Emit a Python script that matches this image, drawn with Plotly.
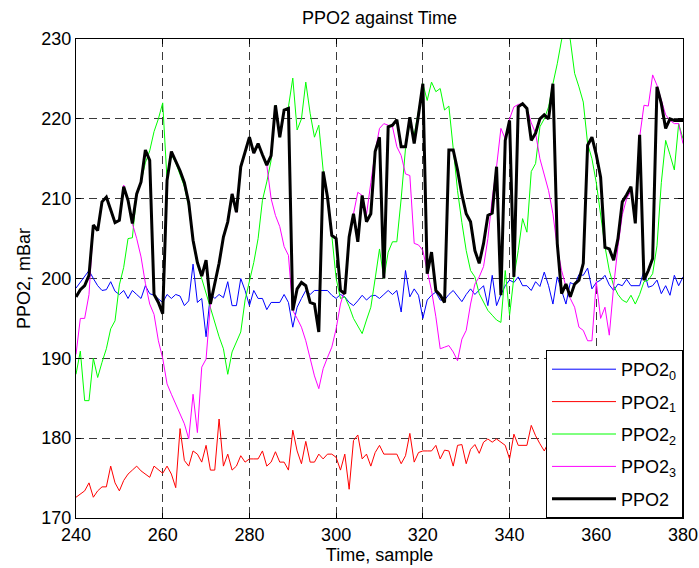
import plotly.graph_objects as go

samples = list(range(240, 381))

ppo2_0 = [
    198.8, 199.5, 200.3, 201.0, 200.0, 199.1, 198.5, 198.6, 199.6, 198.4,
    198.0, 198.5, 197.5, 198.5, 198.0, 197.5, 199.1, 198.1, 197.9, 197.5,
    197.0, 198.0, 197.5, 198.0, 197.8, 196.6, 197.2, 201.8, 197.0, 197.5,
    192.7, 198.1, 197.5, 198.0, 197.6, 199.6, 196.6, 196.6, 200.0, 198.5,
    196.6, 198.5, 197.5, 197.5, 196.1, 197.0, 197.0, 197.0, 198.0, 197.0,
    193.9, 196.4, 197.5, 198.5, 198.0, 198.5, 198.5, 198.5, 198.5, 197.9,
    197.5, 198.0, 197.7, 197.0, 196.6, 197.2, 197.9, 197.3, 197.8, 197.9,
    197.5, 198.0, 198.5, 198.0, 198.5, 195.8, 201.0, 197.7, 198.7, 197.9,
    195.0, 197.3, 197.9, 198.3, 197.3, 197.3, 198.0, 198.5, 197.8, 197.1,
    198.0, 198.7, 198.0, 198.6, 199.1, 196.6, 200.4, 196.6, 198.0, 199.1,
    199.8, 199.5, 200.2, 199.1, 199.1, 198.5, 199.6, 199.0, 200.8, 199.1,
    196.8, 200.2, 198.5, 196.8, 199.5, 199.2, 200.5, 200.4, 201.3, 198.7,
    199.5, 199.8, 200.4, 199.2, 198.5, 199.3, 199.1, 199.9, 199.1, 199.1,
    199.1, 201.0, 198.9, 199.1, 199.8, 198.1, 199.1, 197.9, 200.4, 199.1,
    200.2,
]

ppo2_1 = [
    172.6, 173.0, 173.4, 174.4, 172.6, 173.4, 173.9, 173.9, 176.5, 174.4,
    173.4, 174.7, 175.5, 176.0, 176.5, 175.9, 175.5, 175.1, 176.5, 176.1,
    175.6, 176.5, 175.5, 173.8, 181.2, 177.2, 176.5, 178.4, 178.0, 177.0,
    179.1, 176.0, 176.0, 182.4, 176.5, 178.0, 176.0, 176.5, 177.8, 177.0,
    177.4, 177.4, 177.4, 178.4, 176.5, 177.0, 178.3, 177.0, 177.0, 176.0,
    181.0, 178.4, 176.8, 179.6, 177.0, 177.0, 178.0, 177.4, 178.0, 178.0,
    177.6, 176.0, 178.0, 173.6, 179.7, 180.4, 177.4, 178.0, 176.5, 178.2,
    179.1, 178.0, 178.0, 178.0, 178.0, 176.8, 177.8, 180.6, 177.0, 178.2,
    178.4, 178.4, 178.4, 179.1, 177.4, 178.5, 178.4, 176.5, 179.1, 179.2,
    176.8, 178.6, 179.2, 178.1, 179.5, 179.9, 179.5, 179.9, 179.5, 179.1,
    177.4, 180.5, 179.1, 179.1, 179.1, 181.6, 180.3, 179.3, 178.4, 179.5,
    180.2, 178.9, 180.6, 179.4, 180.8, 179.2, 180.0, 181.2, 179.6, 180.4,
    179.0, 180.7, 179.8, 181.0, 179.5, 180.2, 181.4, 179.8, 180.5, 179.4,
    180.9, 180.1, 179.6, 181.0, 180.3, 179.7, 181.2, 180.4, 179.9, 180.8,
    180.5,
]

ppo2_2 = [
    188.0, 190.9, 184.7, 184.7, 190.0, 187.6, 189.5, 191.2, 193.7, 194.7,
    199.2, 201.4, 205.0, 205.1, 210.6, 212.1, 214.5, 216.0, 218.4, 220.0,
    222.0, 212.3, 215.5, 214.5, 213.0, 211.5, 209.0, 204.5, 201.8, 200.0,
    198.0, 196.5, 194.7, 192.7, 191.2, 188.0, 190.8, 192.0, 193.3, 197.3,
    199.8, 202.0, 205.0, 209.8, 212.1, 214.8, 221.7, 217.7, 221.1, 221.5,
    225.1, 218.6, 220.0, 224.6, 220.7, 217.7, 219.2, 213.6, 210.0, 205.4,
    200.0, 197.5, 197.7, 196.5, 195.0, 194.0, 193.1, 194.8, 196.4, 200.0,
    203.7, 200.0, 203.3, 204.6, 204.6, 210.0, 216.3, 219.5, 218.0, 221.0,
    224.4, 222.3, 224.6, 223.4, 223.8, 221.1, 221.6, 216.3, 211.0, 207.0,
    203.5, 201.0, 200.2, 198.1, 197.0, 196.0, 195.4, 194.8, 194.5, 201.0,
    195.4, 200.2, 203.5, 207.5, 205.8, 213.4, 214.4, 219.0, 220.0, 221.5,
    224.4, 226.9, 229.9, 231.5, 229.9, 225.7, 224.0, 222.1, 216.9, 215.0,
    212.0, 208.0, 204.0, 201.0, 199.1, 198.0, 197.3, 197.0, 197.9, 196.8,
    198.0, 199.6, 199.8, 200.6, 204.1, 212.0, 217.3, 215.5, 213.6, 219.4,
    217.5,
]

ppo2_3 = [
    190.5, 195.0, 195.0, 198.0, 206.7, 206.0, 209.6, 210.2, 208.6, 207.0,
    207.3, 211.7, 209.8, 206.9, 205.0, 202.7, 199.4, 196.8, 195.5, 192.2,
    190.0, 186.8, 185.5, 184.3, 183.0, 181.8, 179.9, 185.5, 180.7, 188.9,
    189.9, 196.8, 199.5, 201.9, 205.2, 207.1, 210.6, 208.3, 214.0, 215.7,
    217.7, 215.7, 216.9, 215.5, 214.2, 210.0, 207.9, 206.5, 204.0, 202.9,
    196.0, 195.0, 193.9, 192.2, 190.0, 187.8, 186.2, 188.7, 190.1, 191.4,
    193.7, 196.8, 198.7, 205.2, 208.1, 210.8, 210.4, 208.0, 212.0, 215.9,
    218.8, 219.4, 219.2, 219.0, 216.5, 215.4, 213.1, 212.9, 204.4, 204.2,
    203.5, 201.0, 198.5, 195.2, 191.2, 191.4, 191.6, 190.8, 189.7, 192.4,
    193.5, 196.8, 199.3, 200.2, 201.5, 205.0, 210.0, 214.0, 218.8, 217.5,
    220.0, 221.5, 221.8, 221.9, 221.3, 219.5, 218.2, 215.0, 213.1, 211.0,
    208.1, 203.9, 201.0, 199.0, 197.5, 196.4, 193.9, 193.5, 192.2, 192.2,
    199.6, 195.0, 196.4, 192.9, 199.0, 204.0, 208.0, 210.0, 211.0, 207.5,
    217.7, 221.7, 221.6, 225.5, 224.2, 222.3, 220.5, 219.8, 219.4, 219.4,
    216.9,
]

ppo2 = [
    197.7, 198.6, 199.1, 200.4, 206.7, 206.0, 209.6, 210.2, 208.6, 207.0,
    207.3, 211.5, 209.8, 206.9, 210.6, 212.1, 216.1, 214.8, 198.0, 197.0,
    195.6, 212.3, 215.9, 214.8, 213.5, 212.0, 209.5, 204.8, 202.0, 200.3,
    202.3, 196.8, 199.5, 201.9, 205.2, 207.1, 210.6, 208.3, 214.0, 215.7,
    217.7, 215.7, 216.9, 215.5, 214.2, 215.4, 221.7, 217.7, 221.1, 221.3,
    196.0, 198.7, 199.5, 199.1, 197.0, 196.8, 193.3, 213.4, 210.2, 205.4,
    205.0, 198.5, 198.1, 205.2, 208.1, 204.6, 210.4, 207.1, 208.1, 215.9,
    217.7, 200.0, 219.0, 219.2, 219.9, 216.5, 216.5, 220.2, 216.9, 220.5,
    224.4, 200.6, 203.3, 198.5, 197.9, 197.0, 216.1, 216.1, 213.6, 210.5,
    208.1, 207.1, 203.5, 201.9, 204.4, 207.9, 208.2, 214.0, 197.9, 217.3,
    219.8, 200.2, 221.5, 221.9, 221.3, 217.3, 218.2, 220.0, 220.5, 220.0,
    224.4, 204.4, 198.1, 199.3, 197.7, 199.3, 199.8, 201.9, 216.7, 217.7,
    215.5, 212.7, 203.9, 203.7, 202.3, 205.0, 209.6, 210.5, 211.5, 206.9,
    218.0, 199.8, 201.0, 202.5, 224.0, 221.9, 218.8, 220.0, 219.8, 219.8,
    219.8,
]

x_ticks = [240, 260, 280, 300, 320, 340, 360, 380]
y_ticks = [170, 180, 190, 200, 210, 220, 230]

series = [
    ("PPO2<sub>0</sub>", ppo2_0, "#0000FF", 1),
    ("PPO2<sub>1</sub>", ppo2_1, "#FF0000", 1),
    ("PPO2<sub>2</sub>", ppo2_2, "#00FF00", 1),
    ("PPO2<sub>3</sub>", ppo2_3, "#FF00FF", 1),
    ("PPO2", ppo2, "#000000", 3),
]

FONT = "Liberation Sans, Arial, Helvetica, sans-serif"
FS = 18

fig = go.Figure()
for i, (name, vals, color, w) in enumerate(series):
    fig.add_trace(go.Scatter(
        x=samples, y=vals, mode="lines", name=name,
        line=dict(color=color, width=w),
        legendgroup=f"g{i}",
    ))

axis_common = dict(
    showline=True, linecolor="black", linewidth=1, mirror="ticks",
    ticks="inside", ticklen=5, tickcolor="black", automargin=False,
    showgrid=True, gridcolor="#3a3a3a", gridwidth=1, griddash="8px,5px",
    zeroline=False, tickfont=dict(family=FONT, size=FS, color="black"),
)

fig.update_layout(
    width=699, height=568,
    margin=dict(l=76, r=16, t=39, b=50),
    paper_bgcolor="white", plot_bgcolor="white",
    font=dict(family=FONT, size=FS, color="black"),
    title=dict(text="PPO2 against Time", x=0.5, xref="paper", xanchor="center",
               y=1 - 18 / 568, yanchor="middle",
               font=dict(family=FONT, size=FS, color="black")),
    xaxis=dict(range=[240, 380], tickvals=x_ticks,
               title=dict(text="Time, sample", font=dict(family=FONT, size=FS), standoff=4),
               **axis_common),
    yaxis=dict(range=[170, 230], tickvals=y_ticks,
               title=dict(text="PPO2, mBar", font=dict(family=FONT, size=FS), standoff=6),
               **axis_common),
    showlegend=True,
    legend=dict(x=1, y=0, xanchor="right", yanchor="bottom",
                bgcolor="white", bordercolor="black", borderwidth=1,
                font=dict(family=FONT, size=FS, color="black"),
                itemwidth=64, tracegroupgap=6, traceorder="grouped"),
)

fig.write_html("out.html")
